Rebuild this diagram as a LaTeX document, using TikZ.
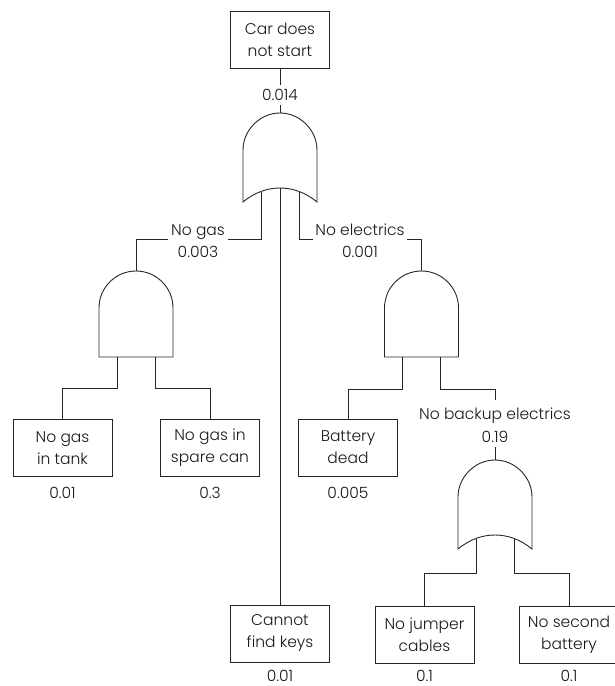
\documentclass[tikz,border=0pt]{standalone}
\usepackage{fontspec}
\setmainfont{Poppins}[UprightFont=* Light]
\tikzset{
  txt/.style={font=\fontsize{15.5}{22}\selectfont, text=black!90},
  box/.style={txt, draw=black!85, line width=0.9pt, minimum width=99pt, minimum height=57pt, align=center, inner sep=0pt},
  val/.style={txt, inner sep=4pt},
  lab/.style={txt, inner sep=2pt, anchor=base},
  wire/.style={line width=0.9pt, draw=black!85},
  gate/.style={line width=0.9pt, draw=black!85},
  orgate/.pic={
    \draw[gate] (-37,89) -- (-37,37) .. controls (-37,17) and (-20,0) .. (0,0)
      .. controls (20,0) and (37,17) .. (37,37) -- (37,89)
      .. controls (25,79) and (12,75) .. (0,75)
      .. controls (-12,75) and (-25,79) .. (-37,89) -- cycle;
    \coordinate (-top) at (0,0);
    \coordinate (-a) at (-19,78.5);
    \coordinate (-b) at (0,75);
    \coordinate (-c) at (19,78.5);
  },
  andgate/.pic={
    \draw[gate] (-37,86) -- (-37,37) .. controls (-37,16.6) and (-20.4,0) .. (0,0)
      .. controls (20.4,0) and (37,16.6) .. (37,37) -- (37,86) -- cycle;
    \coordinate (-top) at (0,0);
    \coordinate (-a) at (-19,86);
    \coordinate (-b) at (19,86);
  }
}
\begin{document}
\begin{tikzpicture}[x=1pt,y=-1pt]
\useasboundingbox (0,0) rectangle (615,686);
% boxes
\node[box] (top) at (280,39.5) {Car does\\not start};
\node[box] (tank) at (62.5,448) {No gas\\in tank};
\node[box] (spare) at (210,448) {No gas in\\spare can};
\node[box] (batt) at (348,447.5) {Battery\\dead};
\node[box] (keys) at (280,633.5) {Cannot\\find keys};
\node[box] (jump) at (424.5,634.5) {No jumper\\cables};
\node[box] (second) at (569,634.5) {No second\\battery};
% values
\node[val] (v014) at (280,95) {0.014};
\node[val] (vtank) at (62.5,493) {0.01};
\node[val] (vspare) at (210,493) {0.3};
\node[val] (vbatt) at (348,493) {0.005};
\node[val] (vkeys) at (280,675.5) {0.01};
\node[val] (vjump) at (424.5,676) {0.1};
\node[val] (vsecond) at (569,676) {0.1};
% event labels
\node[lab] (nogas) at (198,235) {No gas};
\node[val] (v003) at (198,252) {0.003};
\node[lab] (noel) at (360,235) {No electrics};
\node[val] (v001) at (360,252) {0.001};
\node[lab] (noback) at (495,419) {No backup electrics};
\node[val] (v019) at (495,437) {0.19};
% gates
\pic (or1) at (280,113) {orgate};
\pic (and1) at (136,271) {andgate};
\pic (and2) at (421.5,271) {andgate};
\pic (or2) at (495,460) {orgate};
% connectors
\draw[wire] (top.south) -- (v014.north);
\draw[wire] (v014.south) -- (or1-top);
\draw[wire] (or1-a) |- ([xshift=1pt,yshift=-4pt]nogas.base east);
\draw[wire] ([xshift=-1pt,yshift=-4pt]nogas.base west) -| (and1-top);
\draw[wire] (or1-c) |- ([yshift=-4pt]noel.base west);
\draw[wire] ([yshift=-4pt]noel.base east) -| (and2-top);
\draw[wire] (or1-b) -- (keys.north);
\draw[wire] (and1-a) -- ++(0,31) -| (tank.north);
\draw[wire] (and1-b) -- ++(0,31) -| (spare.north);
\draw[wire] (and2-a) -- ++(0,32) -| (batt.north);
\draw[wire] (and2-b) -- ++(0,32) -| ([yshift=5pt]noback.north);
\draw[wire] (v019.south) -- (or2-top);
\draw[wire] (or2-a) -- ++(0,35) -| (jump.north);
\draw[wire] (or2-c) -- ++(0,35) -| (second.north);
\end{tikzpicture}
\end{document}
